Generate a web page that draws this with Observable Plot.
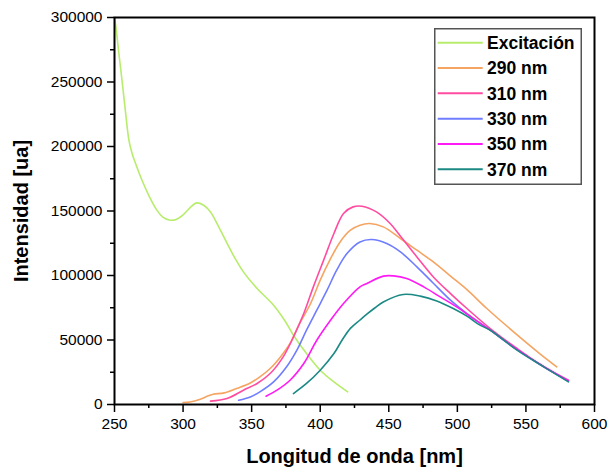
<!DOCTYPE html>
<html><head><meta charset="utf-8">
<script src="https://cdn.jsdelivr.net/npm/d3@7"></script>
<script src="https://cdn.jsdelivr.net/npm/@observablehq/plot@0.6"></script>
<style>
body{margin:0;background:#fff;}
#chart{position:relative;width:608px;height:467px;font-family:"Liberation Sans",Arial,sans-serif;}
#chart svg{display:block;}
g[aria-label="y-axis label"] text, g[aria-label="x-axis label"] text{font-size:20px;font-weight:bold;fill:#000;}
#legend{position:absolute;left:434px;top:28px;}
</style></head><body><div id="chart"></div>
<script>
const seriesNames = ["Excitación", "290 nm", "310 nm", "330 nm", "350 nm", "370 nm"];
const seriesColors = ["#b8ec6c", "#f5a462", "#ff4ca0", "#6f7dff", "#ff19f5", "#1b8a85"];

const excWl = [250, 251, 253, 255.5, 258, 260.5, 263, 266, 270, 275.5, 281, 285, 290, 295, 300, 305, 310, 315, 320, 326, 336, 344, 354, 366, 374, 380.5, 390, 400, 410, 420];
const excI  = [300000, 293000, 274000, 251000, 227000, 205000, 194000, 185000, 174000, 161000, 150500, 145500, 143000, 143500, 147000, 152500, 156300, 154500, 149300, 137700, 117000, 102800, 89900, 77000, 65300, 53700, 39500, 26600, 17500, 9800];

const em290Wl = [300, 305, 312, 318, 322, 330, 339, 349, 356, 363.5, 371, 378, 385, 393, 400, 407, 414.5, 422, 429, 436, 446, 458.5, 470.5, 482.5, 495, 507, 521.5, 541, 560, 572.5];
const em290I  = [1500, 2000, 3900, 6500, 8000, 9000, 12400, 16700, 21400, 27900, 36900, 47300, 62800, 78300, 96400, 111900, 126000, 135100, 139000, 140300, 137700, 128700, 119600, 110500, 99500, 89000, 74400, 56300, 39500, 29200];

const em310Wl = [320, 332, 344, 354, 363.5, 373, 380.5, 388, 395, 402.5, 410, 417, 424, 430.5, 441, 451, 458, 470.5, 482.5, 495, 507, 524, 543.5, 563, 581];
const em310I  = [2600, 4600, 11100, 16300, 24000, 36900, 52400, 70500, 91200, 111900, 132600, 148100, 153200, 153700, 149300, 140300, 131200, 114400, 98900, 86000, 74400, 58900, 43400, 29200, 18800];

const em330Wl = [340.5, 349, 356, 366, 375.5, 383, 390, 397.5, 405, 412, 419.5, 429, 437.5, 448.5, 458.5, 470.5, 482.5, 495, 507, 524, 543.5, 563, 581];
const em330I  = [3300, 5900, 9800, 17500, 29200, 42100, 57600, 73100, 88600, 104100, 117000, 126000, 127900, 124800, 118300, 106700, 94000, 80900, 70500, 57600, 42500, 29200, 18000];

const em350Wl = [360.5, 368.5, 378, 388, 397.5, 407.5, 417, 429, 434, 446, 453.5, 463, 475.5, 487.5, 499.5, 511.5, 524, 543.5, 563, 581];
const em350I  = [6400, 11100, 18800, 31800, 49800, 65300, 78300, 91200, 93800, 99500, 99700, 97700, 91200, 83400, 75700, 66700, 57600, 42800, 29500, 18500];

const em370Wl = [380.5, 390, 400, 410, 416, 422, 429, 434, 440, 446, 460.5, 473, 485, 497, 507, 516.5, 524, 543.5, 563, 581];
const em370I  = [8500, 16300, 26600, 39500, 50000, 59000, 65500, 70000, 75000, 79500, 85300, 84000, 80300, 74400, 68500, 61500, 57600, 42100, 29200, 17500];

const xTicks = [250, 300, 350, 400, 450, 500, 550, 600];
const xMinor = [275, 325, 375, 425, 475, 525, 575];
const yTicks = [0, 50000, 100000, 150000, 200000, 250000, 300000];
const yMinor = [25000, 75000, 125000, 175000, 225000, 275000];

const seriesWl = [excWl, em290Wl, em310Wl, em330Wl, em350Wl, em370Wl];
const seriesI = [excI, em290I, em310I, em330I, em350I, em370I];
const data = seriesNames.flatMap((name, i) => seriesWl[i].map((w, j) => ({series: name, wl: w, val: seriesI[i][j]})));

const font = "'Liberation Sans', Arial, sans-serif";
const chart = Plot.plot({
  width: 608, height: 467,
  marginLeft: 114, marginRight: 14, marginTop: 17, marginBottom: 63,
  style: {fontFamily: font, fontSize: "15.5px", color: "#000", background: "#fff"},
  x: {domain: [250, 600]},
  y: {domain: [0, 300000]},
  color: {domain: seriesNames, range: seriesColors},
  marks: [
    Plot.line(data, {x: "wl", y: "val", z: "series", stroke: "series", strokeWidth: 1.6, curve: "catmull-rom"}),
    Plot.axisX({ticks: xTicks, tickSize: 8, tickPadding: 5, strokeWidth: 1.5, label: "Longitud de onda [nm]", labelAnchor: "center", labelArrow: "none", labelOffset: 58, tickFormat: d3.format("d")}),
    Plot.axisX({ticks: xMinor, tickSize: 4, strokeWidth: 1.5, text: null, label: null}),
    Plot.axisY({ticks: yTicks, tickSize: 7, tickPadding: 5, strokeWidth: 1.5, label: "Intensidad [ua]", labelAnchor: "center", labelArrow: "none", labelOffset: 101, tickFormat: d3.format("d")}),
    Plot.axisY({ticks: yMinor, tickSize: 4, strokeWidth: 1.5, text: null, label: null}),
    Plot.frame({stroke: "#000", strokeWidth: 2})
  ]
});
const container = document.getElementById("chart");
container.appendChild(chart);

// legend
const lg = d3.create("svg").attr("id", "legend").attr("width", 148).attr("height", 157);
lg.append("rect").attr("x", 0.75).attr("y", 0.75).attr("width", 146.5).attr("height", 155.5)
  .attr("fill", "#fff").attr("stroke", "#555").attr("stroke-width", 1.5);
seriesNames.forEach((name, i) => {
  const y = 14.7 + i * 25.33;
  lg.append("line").attr("x1", 3.7).attr("x2", 48.7).attr("y1", y).attr("y2", y)
    .attr("stroke", seriesColors[i]).attr("stroke-width", 2);
  lg.append("text").attr("x", 53).attr("y", y + 6.3).text(name)
    .attr("font-family", font).attr("font-weight", "bold").attr("font-size", "17.5px").attr("fill", "#000");
});
container.appendChild(lg.node());
</script>
</body></html>
